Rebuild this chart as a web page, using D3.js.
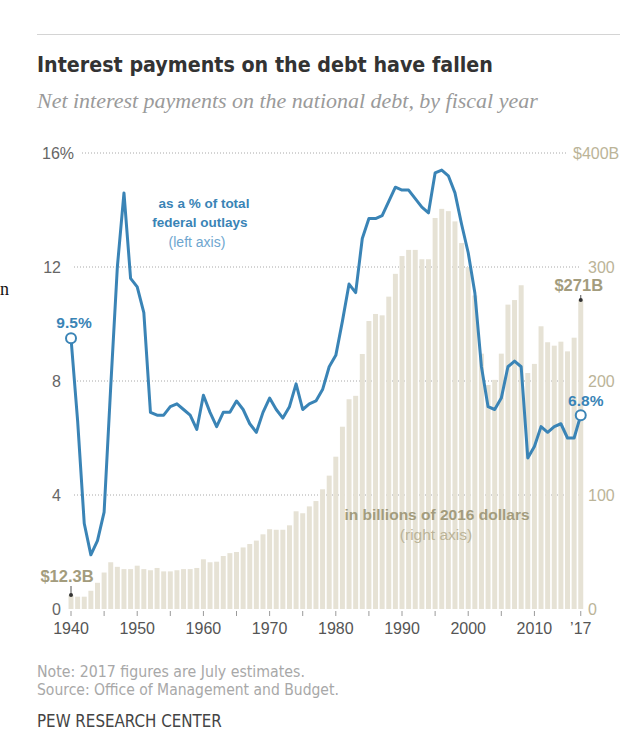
<!DOCTYPE html>
<html><head><meta charset="utf-8">
<script src="https://cdn.jsdelivr.net/npm/d3@7"></script>
<style>
body{margin:0;background:#fff}
svg{display:block}
</style></head><body>
<svg id="c" width="640" height="746"></svg>
<script>
const years = [1940,1941,1942,1943,1944,1945,1946,1947,1948,1949,
 1950,1951,1952,1953,1954,1955,1956,1957,1958,1959,
 1960,1961,1962,1963,1964,1965,1966,1967,1968,1969,
 1970,1971,1972,1973,1974,1975,1976,1977,1978,1979,
 1980,1981,1982,1983,1984,1985,1986,1987,1988,1989,
 1990,1991,1992,1993,1994,1995,1996,1997,1998,1999,
 2000,2001,2002,2003,2004,2005,2006,2007,2008,2009,
 2010,2011,2012,2013,2014,2015,2016,2017];
// Net interest, billions of 2016 dollars (right axis)
const interestBillions = [12.3,10.8,10.8,16,23,32,41,37,35,35,
 38,35,34,36,33,33,34,35,35,36,
 43.6,41,41.5,46.5,49,50,54,57,60,65.5,
 70,69.5,69.5,73.4,85.7,84,90,94.7,105,117,
 133.6,159.9,184,187,223.7,252.6,258.8,257.6,274,294,
 309.6,315,315,306.8,306.8,343,351,349,340,321,
 300,275,224,196.5,201,224,267,271,284,207,
 215,248,234,231,234.5,226,238,271];
// Net interest as % of total federal outlays (left axis)
const pctOfOutlays = [9.5,6.6,3.0,1.9,2.4,3.4,7.8,12.0,14.6,11.6,
 11.3,10.4,6.9,6.8,6.8,7.1,7.2,7.0,6.8,6.3,
 7.5,6.9,6.4,6.9,6.9,7.3,7.0,6.5,6.2,6.9,
 7.4,7.0,6.7,7.1,7.9,7.0,7.2,7.3,7.7,8.5,
 8.9,10.1,11.4,11.1,13.0,13.7,13.7,13.8,14.3,14.8,
 14.7,14.7,14.4,14.1,13.9,15.3,15.4,15.2,14.6,13.5,
 12.5,11.1,8.5,7.1,7.0,7.4,8.5,8.7,8.5,5.3,
 5.7,6.4,6.2,6.4,6.5,6.0,6.0,6.8];
const leftTicks = [0,4,8,12,16];
const leftTickLabels = ["0","4","8","12","16%"];
const rightTicks = [0,100,200,300,400];
const rightTickLabels = ["0","100","200","300","$400B"];
const xTickYears = [1940,1945,1950,1955,1960,1965,1970,1975,1980,1985,1990,1995,2000,2005,2010,2017];
const xLabelYears = [1940,1950,1960,1970,1980,1990,2000,2010,2017];
const xLabelTexts = ["1940","1950","1960","1970","1980","1990","2000","2010","\u201917"];

const SANS = "'Liberation Sans', Arial, Helvetica, sans-serif";
const NARROW = "'Liberation Sans Narrow', 'DejaVu Sans Condensed', 'Liberation Sans', sans-serif";
const SERIF = "'Liberation Serif', 'DejaVu Serif', serif";
const BLUE = "#3a84b6", TAN = "#a39c7d", TAN_LIGHT = "#bbb498", BAR = "#e6e2d5";

const svg = d3.select("#c");

function fit(sel, target) {
  const w = sel.node().getComputedTextLength();
  const fs = parseFloat(sel.attr("font-size"));
  sel.attr("font-size", (fs * target / w).toFixed(2));
}

// header
svg.append("line").attr("x1",37).attr("x2",620).attr("y1",34.5).attr("y2",34.5)
  .attr("stroke","#d4d4d4").attr("stroke-width",1);
const title = svg.append("text").attr("x",37).attr("y",72)
  .attr("font-family",NARROW).attr("font-weight","bold").attr("font-size",22)
  .attr("fill","#333").text("Interest payments on the debt have fallen");
fit(title, 456);
const sub = svg.append("text").attr("x",37).attr("y",108)
  .attr("font-family",SERIF).attr("font-style","italic").attr("font-size",18)
  .attr("fill","#9a9a9a").text("Net interest payments on the national debt, by fiscal year");
fit(sub, 501);

// stray fragment at page edge
svg.append("text").attr("x",0).attr("y",295).attr("font-family",SERIF)
  .attr("font-size",18).attr("fill","#111").text("n");

// scales
const x = d3.scaleBand().domain(years).range([67.7, 584.06]).paddingInner(0.25).paddingOuter(0.125);
const yL = d3.scaleLinear().domain([0,16]).range([609,153]);
const yR = d3.scaleLinear().domain([0,400]).range([609,153]);
const cx = d => x(d) + x.bandwidth()/2;

// gridlines
const grid = svg.append("g");
leftTicks.filter(t => t > 0).forEach(t => {
  grid.append("line").attr("x1", t === 16 ? 82 : 74).attr("x2", t === 16 ? 567 : 580)
    .attr("y1", yL(t)).attr("y2", yL(t))
    .attr("stroke","#a8a8a8").attr("stroke-width",1).attr("stroke-dasharray","1,2");
});

// bars
svg.append("g").selectAll("rect").data(years).join("rect")
  .attr("x", d => x(d)).attr("width", x.bandwidth())
  .attr("y", (d,i) => yR(interestBillions[i]))
  .attr("height", (d,i) => yR(0) - yR(interestBillions[i]))
  .attr("fill", BAR);

// left axis
const axL = svg.append("g").attr("transform","translate(61,0)")
  .call(d3.axisLeft(yL).tickValues(leftTicks).tickSize(0).tickPadding(0)
    .tickFormat((d,i) => leftTickLabels[i]));
axL.select(".domain").remove();
axL.selectAll("text").attr("font-family",SANS).attr("font-size",16).attr("fill","#666");
axL.selectAll("text").filter(d => d === 16).attr("text-anchor","start").attr("x",-19);

// right axis
const axR = svg.append("g").attr("transform","translate(588,0)")
  .call(d3.axisRight(yR).tickValues(rightTicks).tickSize(0).tickPadding(0)
    .tickFormat((d,i) => rightTickLabels[i]));
axR.select(".domain").remove();
axR.selectAll("text").attr("font-family",SANS).attr("font-size",16).attr("fill",TAN_LIGHT);
axR.selectAll("text").filter(d => d === 400).attr("x",-15);

// x axis
const axX = svg.append("g").attr("transform","translate(0,611)")
  .call(d3.axisBottom(x).tickValues(xTickYears).tickSize(5).tickPadding(7)
    .tickFormat(d => { const k = xLabelYears.indexOf(d); return k >= 0 ? xLabelTexts[k] : ""; }));
axX.select(".domain").remove();
axX.selectAll("line").attr("stroke","#9a9a9a");
axX.selectAll("text").attr("font-family",SANS).attr("font-size",16).attr("fill","#555");

// line
const line = d3.line().x((d,i) => cx(years[i])).y(d => yL(d));
svg.append("path").datum(pctOfOutlays).attr("d", line)
  .attr("fill","none").attr("stroke",BLUE).attr("stroke-width",3)
  .attr("stroke-linejoin","round").attr("stroke-linecap","round");
[0, years.length-1].forEach(i => {
  svg.append("circle").attr("cx", cx(years[i])).attr("cy", yL(pctOfOutlays[i])).attr("r",5)
    .attr("fill","#fff").attr("stroke",BLUE).attr("stroke-width",2);
});

// annotations
function label(txt, xx, yy, opts) {
  return svg.append("text").attr("x",xx).attr("y",yy).attr("text-anchor",opts.anchor || "middle")
    .attr("font-family",SANS).attr("font-weight",opts.bold ? "bold" : "normal")
    .attr("font-size",opts.size).attr("fill",opts.color).text(txt);
}
const iFirst = 0, iLast = years.length - 1;
label("9.5%", cx(years[iFirst]) + 3, 328, {bold:true,size:15.5,color:BLUE});
label("6.8%", cx(years[iLast]) + 5, 406, {bold:true,size:15.5,color:BLUE});
label("$12.3B", cx(years[iFirst]) - 4, 582, {bold:true,size:16.5,color:TAN});
svg.append("line").attr("x1",cx(years[iFirst])).attr("x2",cx(years[iFirst]))
  .attr("y1",586).attr("y2",yR(interestBillions[iFirst])).attr("stroke","#555").attr("stroke-width",1);
svg.append("circle").attr("cx",cx(years[iFirst])).attr("cy",yR(interestBillions[iFirst])).attr("r",2).attr("fill","#333");
label("$271B", cx(years[iLast]) - 2, 291, {bold:true,size:16.5,color:TAN});
svg.append("line").attr("x1",cx(years[iLast])).attr("x2",cx(years[iLast]))
  .attr("y1",295).attr("y2",yR(interestBillions[iLast])).attr("stroke","#555").attr("stroke-width",1);
svg.append("circle").attr("cx",cx(years[iLast])).attr("cy",yR(interestBillions[iLast])).attr("r",2).attr("fill","#333");

label("as a % of total", 204, 208, {bold:true,size:13.5,color:BLUE});
label("federal outlays", 200, 227, {bold:true,size:13.5,color:BLUE});
label("(left axis)", 197, 247, {bold:false,size:14,color:"#6ea6cf"});
label("in billions of 2016 dollars", 437, 520, {bold:true,size:15.5,color:TAN});
label("(right axis)", 436, 540, {bold:false,size:15.5,color:TAN_LIGHT});

// footer
const n1 = svg.append("text").attr("x",37).attr("y",677).attr("font-family",NARROW)
  .attr("font-size",14).attr("fill","#a8a8a8").text("Note: 2017 figures are July estimates.");
fit(n1, 268);
const n2 = svg.append("text").attr("x",37).attr("y",695).attr("font-family",NARROW)
  .attr("font-size",14).attr("fill","#a8a8a8").text("Source: Office of Management and Budget.");
fit(n2, 302);
const n3 = svg.append("text").attr("x",37).attr("y",727).attr("font-family",NARROW)
  .attr("font-size",14).attr("fill","#444").text("PEW RESEARCH CENTER");
fit(n3, 185);
</script>
</body></html>
